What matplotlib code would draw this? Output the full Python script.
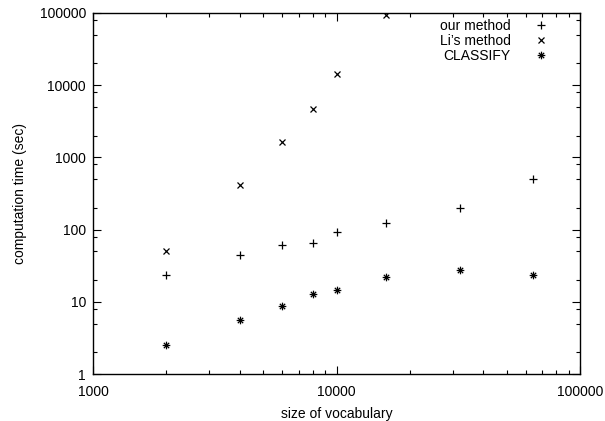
import matplotlib
matplotlib.use("Agg")
import matplotlib.pyplot as plt
from matplotlib.path import Path
from matplotlib.ticker import LogLocator, NullFormatter, FixedLocator, FixedFormatter

plt.rcParams['font.family'] = ['Liberation Sans', 'DejaVu Sans']

vocab = [2000, 4000, 6000, 8000, 10000, 16000, 32000, 64000]
ours = [23.5, 45, 62, 66, 94, 122, 200, 495]
li_vocab = [2000, 4000, 6000, 8000, 10000, 16000]
li = [50, 420, 1620, 4750, 14200, 93000]
classify = [2.5, 5.6, 8.7, 12.7, 14.8, 22.3, 27.5, 23.3]

# gnuplot style "*" point: plus and cross together
star = Path([(-1, 0), (1, 0), (0, -1), (0, 1),
             (-0.7, -0.7), (0.7, 0.7), (-0.7, 0.7), (0.7, -0.7)],
            [Path.MOVETO, Path.LINETO] * 4)

fig = plt.figure(figsize=(6.05, 4.21), dpi=100)
ax = fig.add_axes([93 / 605, 1 - 374 / 421, 487 / 605, 361 / 421])

ax.plot(vocab, ours, ls='none', marker='+', ms=5.5, mew=0.9, color='black', label='our method')
ax.plot(li_vocab, li, ls='none', marker='x', ms=5, mew=0.9, color='black', label="Li’s method")
ax.plot(vocab, classify, ls='none', marker=star, ms=5.5, mew=0.9, color='black', label='CLASSIFY')

ax.set_xscale('log')
ax.set_yscale('log')
ax.set_xlim(1000, 100000)
ax.set_ylim(1, 100000)

xt = [1000, 10000, 100000]
yt = [1, 10, 100, 1000, 10000, 100000]
ax.xaxis.set_major_locator(FixedLocator(xt))
ax.xaxis.set_major_formatter(FixedFormatter([str(v) for v in xt]))
ax.yaxis.set_major_locator(FixedLocator(yt))
ax.yaxis.set_major_formatter(FixedFormatter([str(v) for v in yt]))
ax.xaxis.set_minor_locator(LogLocator(base=10, subs=range(2, 10)))
ax.yaxis.set_minor_locator(LogLocator(base=10, subs=[2, 5, 8]))
ax.xaxis.set_minor_formatter(NullFormatter())
ax.yaxis.set_minor_formatter(NullFormatter())

ax.tick_params(which='both', direction='in', top=True, right=True, labelsize=10, width=0.8)
ax.tick_params(which='major', length=6, pad=5)
ax.tick_params(which='minor', length=3)
ax.tick_params(axis='x', which='major', pad=8)
for s in ax.spines.values():
    s.set_linewidth(1.0)

ax.set_xlabel('size of vocabulary', fontsize=10, labelpad=6)
ax.set_ylabel('computation time (sec)', fontsize=10, labelpad=9)

ax.legend(loc='upper right', frameon=False, markerfirst=False, fontsize=10,
          handlelength=1.0, handletextpad=1.7, labelspacing=0.08,
          borderaxespad=0.0, borderpad=0.4, bbox_to_anchor=(0.946, 1.0))

fig.savefig('out.png', dpi=100)
